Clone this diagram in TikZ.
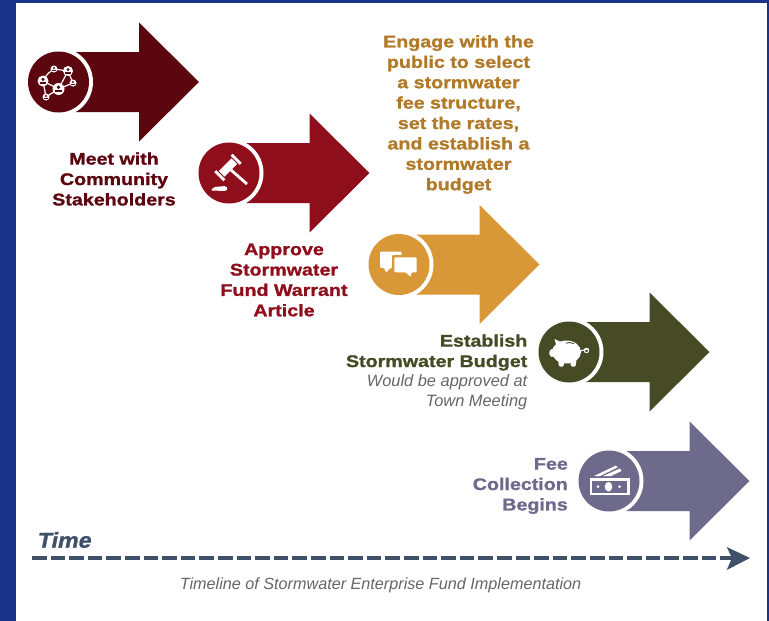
\documentclass[tikz,border=0pt]{standalone}
\usepackage{fontspec}
\setmainfont{Liberation Sans}
\newfontfamily\widebold[FakeStretch=1.17,FakeBold=1.2]{Liberation Sans Bold}
\newfontfamily\timefont[FakeStretch=1.08,FakeBold=1.2,FakeSlant=0.2]{Liberation Sans Bold}
\usetikzlibrary{arrows.meta}
\definecolor{frameblue}{HTML}{1B3289}
\definecolor{cmaroon}{HTML}{5C0610}
\definecolor{cred}{HTML}{8F0E1C}
\definecolor{cgold}{HTML}{D89838}
\definecolor{cgoldtext}{HTML}{B07A28}
\definecolor{colive}{HTML}{464A25}
\definecolor{cpurple}{HTML}{6D6A8C}
\definecolor{cslate}{HTML}{3F5068}
\definecolor{cgray}{HTML}{666666}
\tikzset{
  label/.style={font=\widebold\fontsize{16.8}{20.4}\selectfont,inner sep=0pt,align=center},
  note/.style={font=\itshape\fontsize{16.2}{20.4}\selectfont,inner sep=0pt,text=cgray},
  iconline/.style={white,line width=1.2pt,fill=none},
}
% #1 centre x, #2 centre y, #3 colour
\newcommand{\stagearrow}[3]{%
  \fill[#3] (#1+10,#2-30) -- (#1+80.5,#2-30) -- (#1+80.5,#2-59.5) -- (#1+140.5,#2) -- (#1+80.5,#2+59.5) -- (#1+80.5,#2+30) -- (#1+10,#2+30) -- cycle;
  \fill[white] (#1,#2) circle[radius=34.5];
  \fill[#3] (#1,#2) circle[radius=30.5];
}
\begin{document}
\begin{tikzpicture}[x=1pt,y=-1pt]
\useasboundingbox (0,0) rectangle (769,621);
\fill[white] (0,0) rectangle (769,621);
\fill[frameblue] (0,0) rectangle (769,3);
\fill[frameblue] (0,0) rectangle (16,621);
\fill[frameblue] (767,0) rectangle (769,621);

\stagearrow{58.5}{82}{cmaroon}
\stagearrow{229}{173}{cred}
\stagearrow{399}{264.5}{cgold}
\stagearrow{569}{352}{colive}
\stagearrow{609}{481}{cpurple}

% network icon
\begin{scope}[shift={(58.5,82)}]
  \draw[iconline] (-15.5,-1) .. controls (-12,-8) and (-9,-10) .. (-4.5,-13) -- (9.5,-11) -- (14.5,1) -- (0,7) -- (-12.5,15) -- cycle
     (-15.5,-1) -- (0,7) (9.5,-11) -- (0,7);
  \foreach \px/\py/\pr in {-15.5/-1/5.5,9.5/-11/5,0/7/6,14.5/1/3.5,-12.5/15/3.5,-4.5/-13/3.5}{
    \fill[white] (\px,\py) circle[radius=\pr];
    \fill[cmaroon] (\px,\py-0.3*\pr) circle[radius=0.3*\pr];
    \fill[cmaroon] (\px-0.6*\pr,\py+0.55*\pr) rectangle (\px+0.6*\pr,\py+0.2*\pr);
  }
\end{scope}

% gavel icon
\begin{scope}[shift={(228,167.5)},rotate=45]
  \fill[white] (-9,-4) rectangle (9,4);
  \fill[white] (-13,-6.5) rectangle (-10.2,6.5);
  \fill[white] (10.2,-6.5) rectangle (13,6.5);
\end{scope}
\begin{scope}[shift={(229,173)}]
  \draw[white,line width=2.8pt] (2,-3) -- (18,11);
  \fill[white,rounded corners=1.5pt] (-18.5,17.5) -- (-15,14) -- (-3,13) -- (-1,16) -- (-3,18) -- cycle;
\end{scope}

% chat icon
\begin{scope}[shift={(399,264.5)}]
  \fill[white,rounded corners=1pt] (-19,-13) rectangle (2.7,3.5);
  \fill[white] (-15,3) -- (-13,8) -- (-8,3) -- cycle;
  \fill[cgold,rounded corners=1pt] (-7,-9.5) rectangle (20,10);
  \fill[white,rounded corners=1pt] (-4.7,-7.2) rectangle (17.7,7.8);
  \fill[white] (6,7.5) -- (11.5,12) -- (13,7.5) -- cycle;
\end{scope}

% piggy icon
\begin{scope}[shift={(569,352)}]
  \fill[white] (-2.5,0) ellipse[x radius=14.5,y radius=11.5];
  \fill[white] (-17,1) ellipse[x radius=2.8,y radius=4];
  \fill[white] (-14.5,-13) -- (-6,-9) -- (-12,-4) -- cycle;
  \fill[white,rounded corners=1pt] (-11,8) -- (-4.5,8) -- (-5.5,14.5) -- (-10,14.5) -- cycle;
  \fill[white,rounded corners=1pt] (1,8) -- (7.5,8) -- (6.5,14.5) -- (2,14.5) -- cycle;
  \draw[colive,line width=0.9pt] (-3,-8.8) .. controls (-1,-9.8) and (2,-9.8) .. (5,-8.4);
  \draw[white,line width=1pt] (11,-1) -- (19,-3);
  \draw[white,line width=1pt] (17.5,-1.5) circle[radius=2.2];
\end{scope}

% money icon
\begin{scope}[shift={(609,481)}]
  \fill[white] (-19.5,-2.7) rectangle (20.5,14);
  \fill[cpurple] (-17,-0.2) rectangle (18,11.5);
  \fill[white] (-0.5,5.7) ellipse[x radius=3.8,y radius=4.8];
  \fill[white] (-11,5.7) circle[radius=1.5];
  \fill[white] (10.5,5.7) circle[radius=1.5];
  \fill[white] (-15,-5) -- (7,-15.5) -- (8.5,-13.5) -- (-9,-5) -- cycle;
  \fill[white] (-6,-5) -- (11,-12.5) -- (12.5,-10) -- (2,-5) -- cycle;
\end{scope}

% labels
\node[label,text=cmaroon,anchor=center] (meet) at (114,179) {Meet with\\Community\\Stakeholders};
\node[label,text=cred,anchor=center] (approve) at (284,280) {Approve\\Stormwater\\Fund Warrant\\Article};
\node[label,text=cgoldtext,anchor=center] (engage) at (458.5,114.5) {Engage with the\\public to select\\a stormwater\\fee structure,\\set the rates,\\and establish a\\stormwater\\budget};
\node[label,text=colive,align=right,anchor=east] (budget) at (527.5,352.5) {Establish\\Stormwater Budget};
\node[note,font=\itshape\fontsize{16.4}{20.4}\selectfont,align=right,anchor=east] (town) at (527.5,392.5) {Would be approved at\\Town Meeting};
\node[label,text=cpurple,align=right,anchor=east] (fee) at (568,486) {Fee\\Collection\\Begins};
\node[inner sep=0pt,anchor=west,text=cslate,font=\timefont\fontsize{21.5}{24}\selectfont] (time) at (36.5,540) {Time};
\node[note,anchor=center] (caption) at (380.5,585) {Timeline of Stormwater Enterprise Fund Implementation};

% timeline
\coordinate (tstart) at (32,558);
\coordinate (tend) at (750,558);
\draw[cslate,line width=4.6pt,dash pattern=on 14.6pt off 4pt,shorten >=15pt] (tstart) -- (tend);
\fill[cslate] (tend) -- (726.7,547) -- (732,558) -- (726.7,570) -- cycle;
\end{tikzpicture}
\end{document}
